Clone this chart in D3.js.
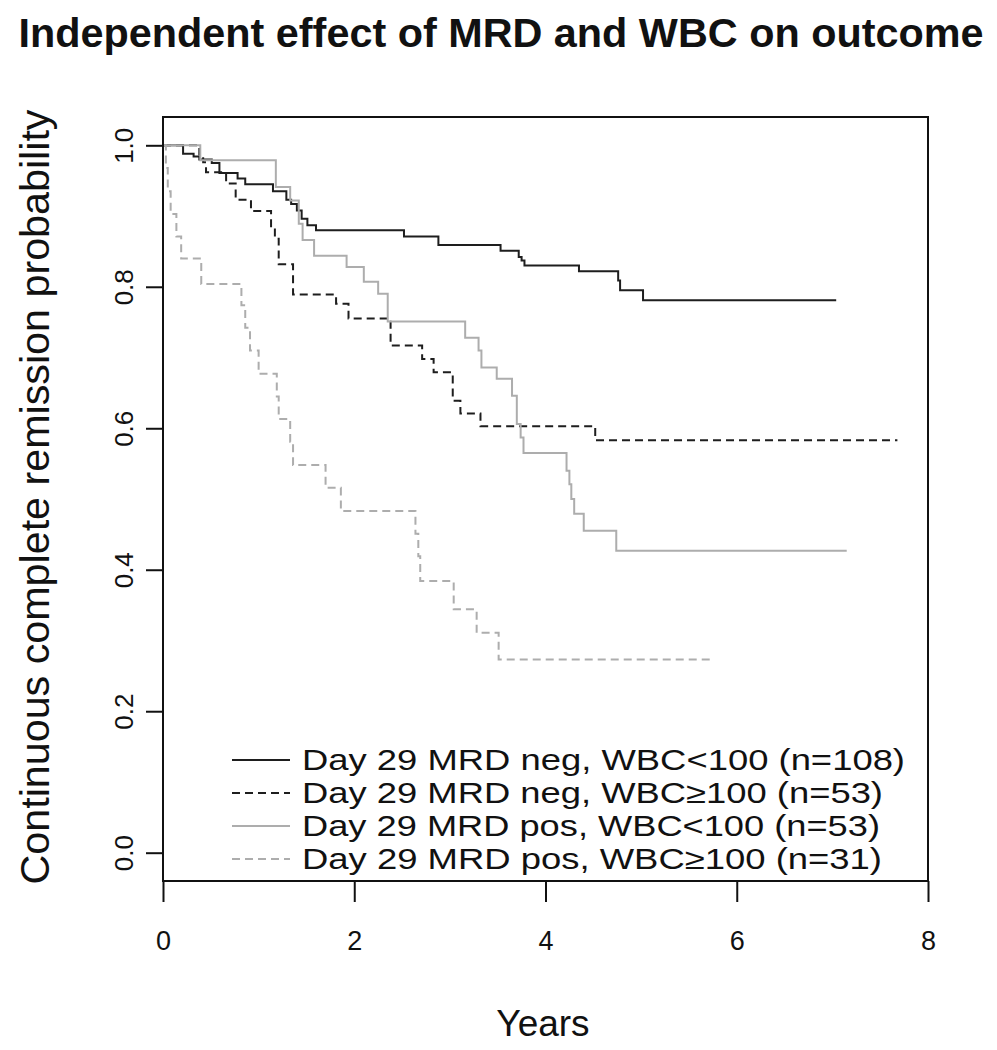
<!DOCTYPE html>
<html>
<head>
<meta charset="utf-8">
<script src="https://cdn.jsdelivr.net/npm/d3@7"></script>
<style>
  html, body { margin: 0; padding: 0; background: #fff; }
  svg { display: block; font-family: "Liberation Sans", Arial, sans-serif; }
</style>
</head>
<body>
<svg id="chart" width="997" height="1050"></svg>
<script>
// ---- data ----
const seriesNames = [
  "Day 29 MRD neg, WBC<100 (n=108)",
  "Day 29 MRD neg, WBC\u2265100 (n=53)",
  "Day 29 MRD pos, WBC<100 (n=53)",
  "Day 29 MRD pos, WBC\u2265100 (n=31)"
];
// step times (years) and survival after each step
const negLowTimes = [0, 0.21, 0.32, 0.38, 0.51, 0.59, 0.78, 0.86, 1.15, 1.29, 1.34, 1.40, 1.45, 1.51, 1.60, 2.52, 2.88, 3.53, 3.72, 3.75, 3.78, 4.35, 4.76, 4.78, 5.02, 7.04];
const negLowSurv  = [1.0, 0.988, 0.984, 0.980, 0.975, 0.961, 0.953, 0.945, 0.935, 0.923, 0.917, 0.908, 0.896, 0.887, 0.880, 0.871, 0.859, 0.851, 0.842, 0.837, 0.830, 0.822, 0.809, 0.795, 0.781, 0.781];

const negHighTimes = [0, 0.38, 0.42, 0.45, 0.66, 0.76, 0.92, 1.13, 1.17, 1.21, 1.36, 1.81, 1.94, 2.38, 2.71, 2.83, 3.03, 3.11, 3.32, 4.52, 7.68];
const negHighSurv  = [1.0, 0.987, 0.976, 0.962, 0.946, 0.923, 0.907, 0.884, 0.868, 0.832, 0.789, 0.776, 0.755, 0.717, 0.698, 0.679, 0.639, 0.621, 0.603, 0.583, 0.583];

const posLowTimes = [0, 0.39, 1.18, 1.33, 1.42, 1.46, 1.58, 1.92, 2.10, 2.25, 2.35, 3.16, 3.30, 3.33, 3.49, 3.65, 3.70, 3.74, 3.77, 4.22, 4.25, 4.27, 4.30, 4.40, 4.74, 7.15];
const posLowSurv  = [1.0, 0.979, 0.941, 0.922, 0.889, 0.866, 0.844, 0.828, 0.807, 0.790, 0.751, 0.728, 0.710, 0.686, 0.670, 0.646, 0.606, 0.587, 0.565, 0.540, 0.521, 0.500, 0.479, 0.455, 0.427, 0.427];

const posHighTimes = [0, 0.03, 0.05, 0.08, 0.14, 0.19, 0.40, 0.82, 0.86, 0.91, 1.00, 1.19, 1.21, 1.33, 1.36, 1.70, 1.86, 2.64, 2.67, 2.69, 3.04, 3.28, 3.51, 5.72];
const posHighSurv  = [1.0, 0.968, 0.935, 0.903, 0.871, 0.840, 0.804, 0.774, 0.742, 0.710, 0.677, 0.645, 0.613, 0.581, 0.548, 0.516, 0.483, 0.451, 0.419, 0.384, 0.344, 0.311, 0.273, 0.273];

const xTicks = [0, 2, 4, 6, 8];
const yTicks = [0.0, 0.2, 0.4, 0.6, 0.8, 1.0];
const titleText = "Independent effect of MRD and WBC on outcome";
const xLabel = "Years";
const yLabel = "Continuous complete remission probability";

// ---- styles ----
const styles = [
  { color: "#1e1e1e", dash: null, width: 2 },
  { color: "#1e1e1e", dash: "8,5", width: 2 },
  { color: "#adadad", dash: null, width: 2 },
  { color: "#adadad", dash: "8,5", width: 2 }
];
const legendWidths = [603, 581, 578, 580];
const seriesData = [
  [negLowTimes, negLowSurv],
  [negHighTimes, negHighSurv],
  [posLowTimes, posLowSurv],
  [posHighTimes, posHighSurv]
].map(([t, s]) => t.map((v, i) => ({ t: v, s: s[i] })));

// ---- layout ----
const svg = d3.select("#chart");
const L = 163, R = 928, T = 117, B = 881;
const x = d3.scaleLinear().domain([0, 8]).range([L, R]);
const y = d3.scaleLinear().domain([-0.04, 1.04]).range([B, T]);

// title
svg.append("text")
  .attr("x", 501).attr("y", 47)
  .attr("text-anchor", "middle")
  .attr("font-size", 40).attr("font-weight", "bold")
  .attr("fill", "#111")
  .attr("textLength", 965).attr("lengthAdjust", "spacingAndGlyphs")
  .text(titleText);

// curves
const line = d3.line().x(d => x(d.t)).y(d => y(d.s)).curve(d3.curveStepAfter);
seriesData.forEach((d, i) => {
  svg.append("path")
    .datum(d)
    .attr("d", line)
    .attr("fill", "none")
    .attr("stroke", styles[i].color)
    .attr("stroke-width", styles[i].width)
    .attr("stroke-dasharray", styles[i].dash);
});

// box
svg.append("rect")
  .attr("x", L).attr("y", T).attr("width", R - L).attr("height", B - T)
  .attr("fill", "none").attr("stroke", "#111").attr("stroke-width", 2);

// x axis
const xAxis = d3.axisBottom(x).tickValues(xTicks).tickFormat(d3.format("d")).tickSize(21).tickPadding(29);
const gx = svg.append("g").attr("transform", `translate(0,${B})`).call(xAxis);
gx.select(".domain").remove();
gx.selectAll("line").attr("stroke", "#111").attr("stroke-width", 2);
gx.selectAll("text").attr("font-size", 27).attr("fill", "#111")
  .attr("font-family", "Liberation Sans, Arial, sans-serif");

// y axis
const yAxis = d3.axisLeft(y).tickValues(yTicks).tickFormat(d3.format(".1f")).tickSize(17).tickPadding(0);
const gy = svg.append("g").attr("transform", `translate(${L},0)`).call(yAxis);
gy.select(".domain").remove();
gy.selectAll("line").attr("stroke", "#111").attr("stroke-width", 2);
gy.selectAll("text")
  .attr("font-size", 26).attr("fill", "#111")
  .attr("font-family", "Liberation Sans, Arial, sans-serif")
  .attr("x", null)
  .attr("text-anchor", "middle")
  .attr("transform", "translate(-39,0) rotate(-90)")
  .attr("dy", "0.35em");

// axis labels
svg.append("text")
  .attr("x", 543).attr("y", 1036)
  .attr("text-anchor", "middle")
  .attr("font-size", 37).attr("fill", "#111")
  .text(xLabel);
svg.append("text")
  .attr("transform", "translate(49,497) rotate(-90)")
  .attr("text-anchor", "middle")
  .attr("font-size", 40).attr("fill", "#111")
  .attr("textLength", 775).attr("lengthAdjust", "spacingAndGlyphs")
  .text(yLabel);

// legend
const legY = [760, 793, 826, 859];
seriesNames.forEach((name, i) => {
  svg.append("line")
    .attr("x1", 232).attr("x2", 290)
    .attr("y1", legY[i]).attr("y2", legY[i])
    .attr("stroke", styles[i].color)
    .attr("stroke-width", styles[i].width)
    .attr("stroke-dasharray", styles[i].dash);
  svg.append("text")
    .attr("x", 302).attr("y", legY[i])
    .attr("dy", "0.35em")
    .attr("font-size", 29).attr("fill", "#111")
    .attr("textLength", legendWidths[i]).attr("lengthAdjust", "spacingAndGlyphs")
    .text(name);
});
</script>
</body>
</html>
